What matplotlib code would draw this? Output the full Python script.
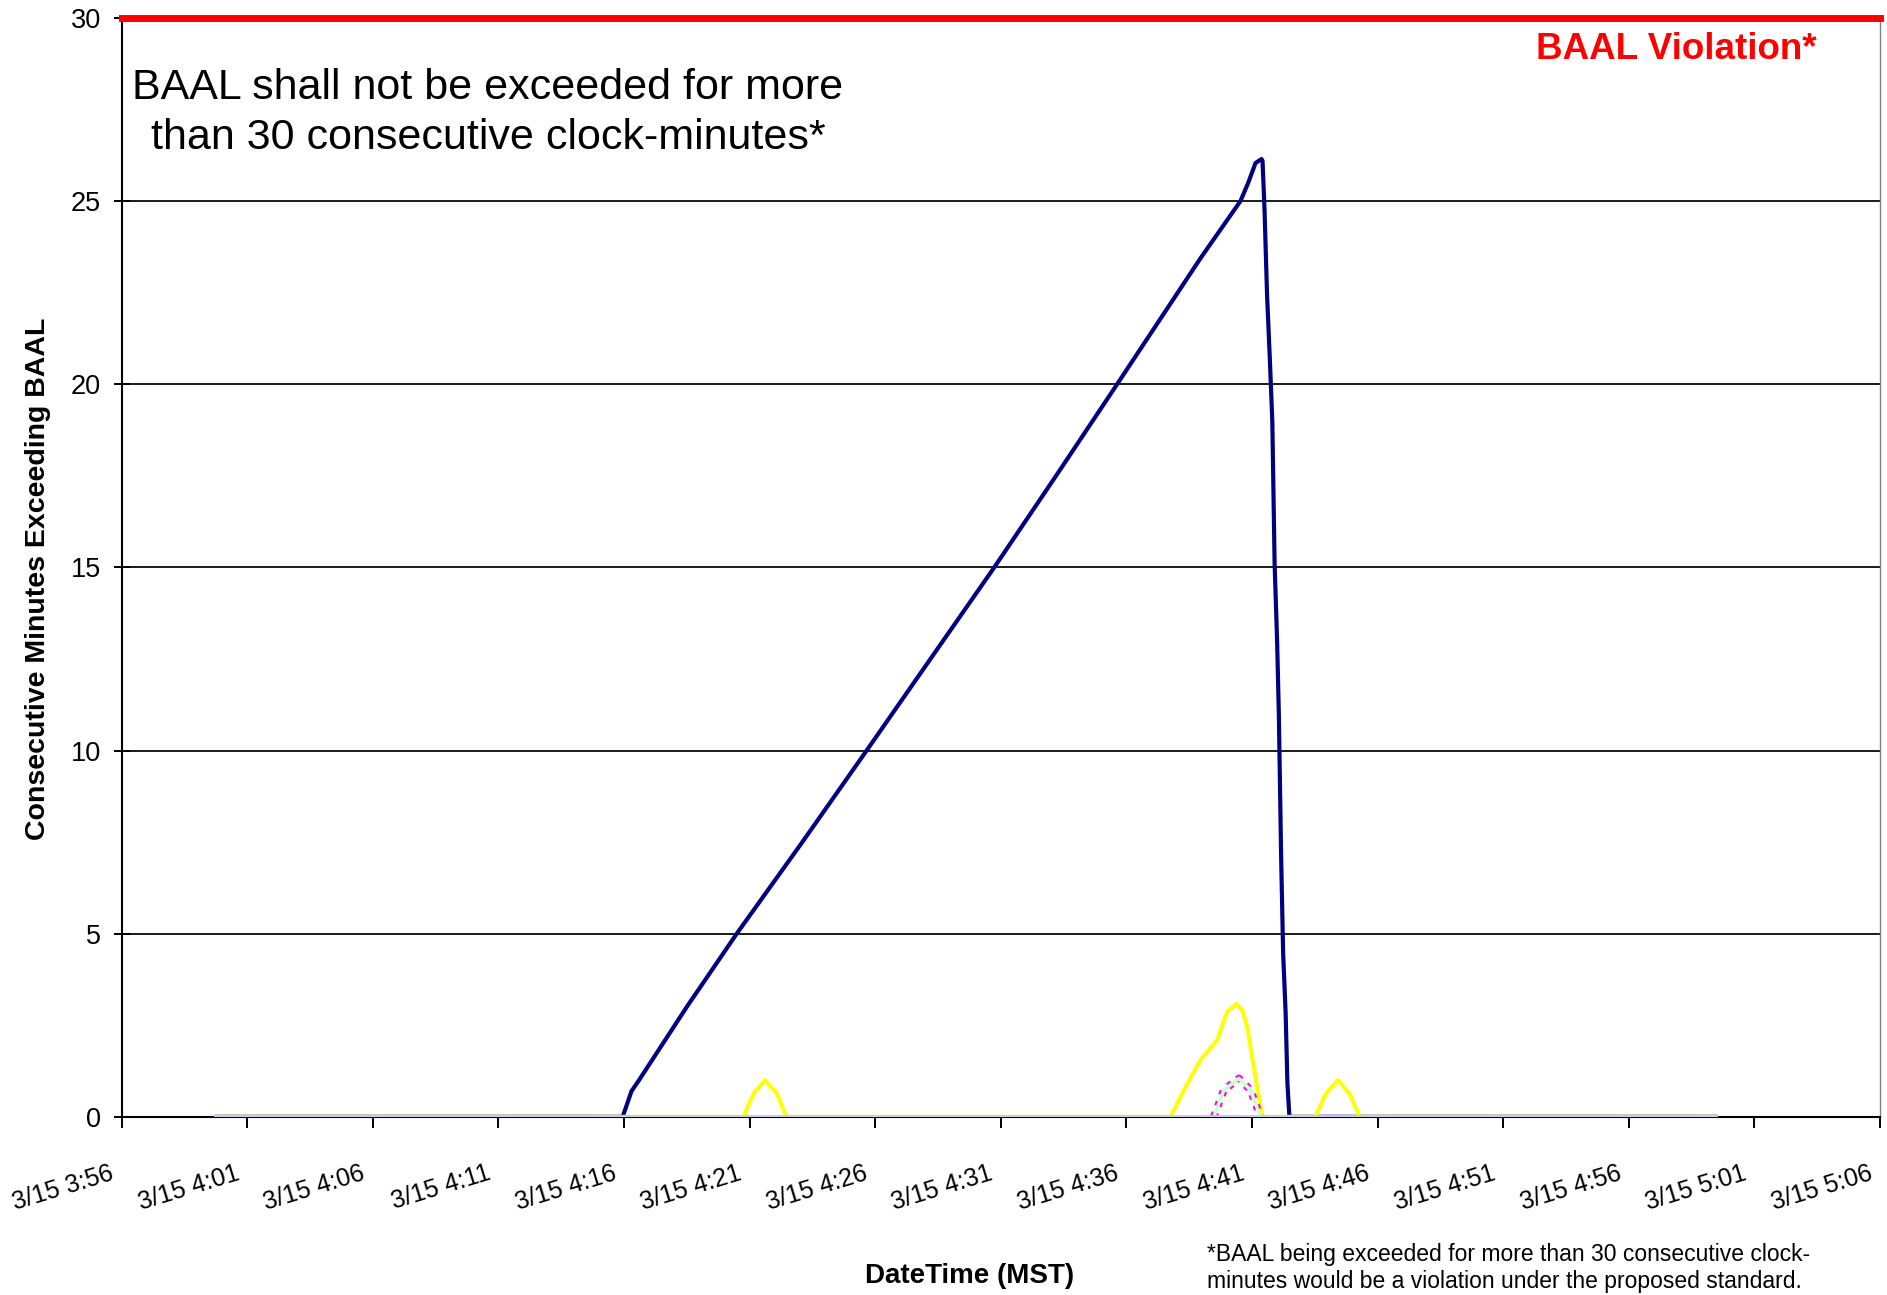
import matplotlib
matplotlib.use('Agg')
import matplotlib.pyplot as plt
from matplotlib.transforms import ScaledTranslation

plt.rcParams['font.family'] = ['Liberation Sans', 'DejaVu Sans']

# x axis: minutes after 3/15 3:56 (MST)
tick_pos = [0, 5, 10, 15, 20, 25, 30, 35, 40, 45, 50, 55, 60, 65, 70]
tick_labels = ['3/15 3:56', '3/15 4:01', '3/15 4:06', '3/15 4:11', '3/15 4:16',
               '3/15 4:21', '3/15 4:26', '3/15 4:31', '3/15 4:36', '3/15 4:41',
               '3/15 4:46', '3/15 4:51', '3/15 4:56', '3/15 5:01', '3/15 5:06']

# main event (navy)
blue_t = [3.78, 19.95, 20.3, 20.6, 22.5, 24.49, 27.1, 29.66, 32.2, 34.74, 37.2,
          39.63, 42.95, 44.54, 44.85, 45.14, 45.38, 45.42, 45.5, 45.6, 45.71,
          45.81, 45.9, 46.0, 46.07, 46.16, 46.24, 46.34, 46.41, 46.49, 63.46]
blue_v = [0, 0, 0.7, 1.0, 3.0, 5.0, 7.5, 10.0, 12.5, 15.0, 17.5,
          20.0, 23.44, 25.0, 25.5, 26.04, 26.15, 26.1, 24.76, 22.44, 20.7,
          18.98, 15.12, 13.0, 10.97, 7.1, 4.47, 2.83, 0.92, 0, 0]

# yellow series
yellow_t = [3.78, 24.76, 25.16, 25.62, 26.09, 26.46, 41.76, 42.29, 42.95, 43.62,
            44.01, 44.38, 44.61, 44.81, 45.07, 45.41, 47.52, 47.95, 48.42, 48.88,
            49.28, 63.46]
yellow_v = [0, 0, 0.64, 1.0, 0.64, 0, 0, 0.73, 1.55, 2.1,
            2.87, 3.08, 2.92, 2.46, 1.37, 0, 0, 0.64, 1.0, 0.64,
            0, 0]

# magenta / light green series (visible bump only)
pink_t = [43.48, 43.88, 44.48, 44.94, 45.34]
pink_v = [0, 0.73, 1.05, 0.73, 0]

# lavender series sitting on zero
zero_t = [3.78, 63.46]
zero_v = [0, 0]

baal_limit = 30

fig = plt.figure(figsize=(18.87, 12.95), dpi=100)
ax = fig.add_axes([0.0644, 0.1376, 0.9319, 0.8485])

ax.plot(blue_t, blue_v, color='#000080', lw=3.0, zorder=3)
ax.plot(yellow_t, yellow_v, color='#ffff00', lw=2.9, zorder=3)
ax.plot(pink_t, pink_v, color='#ff00ff', lw=5.5, ls=(0, (0.6, 0.9)), zorder=3)
ax.plot(pink_t, pink_v, color='#ccffcc', lw=2.6, zorder=3)
ax.plot(zero_t, zero_v, color='#c8c8f0', lw=2.8, zorder=4)
ax.axhline(baal_limit, color='#ff0000', lw=5, clip_on=False, zorder=6)

ax.set_xlim(0, 70)
ax.set_ylim(0, 30)
ax.set_yticks(range(0, 31, 5))
ax.set_xticks(tick_pos)
ax.set_xticklabels(tick_labels, rotation=17, ha='right', va='top',
                   rotation_mode='anchor')

ax.yaxis.grid(True, color='#1a1a1a', lw=1.4)
ax.set_axisbelow(True)
ax.tick_params(axis='y', direction='inout', length=12, width=1.4, labelsize=19.5, pad=9)
ax.tick_params(axis='x', direction='out', length=8, width=1.4, labelsize=18, pad=24)

# nudge the slanted date labels left of their ticks (after tick_params)
for lbl in ax.get_xticklabels():
    lbl.set_transform(lbl.get_transform() + ScaledTranslation(-0.12, 0, fig.dpi_scale_trans))

for s in ['left', 'bottom']:
    ax.spines[s].set_linewidth(1.5)
    ax.spines[s].set_color('black')
ax.spines['right'].set_color('#808080')
ax.spines['right'].set_linewidth(1.0)
ax.spines['top'].set_visible(False)

fig.text(0.020, 0.553, 'Consecutive Minutes Exceeding BAAL', rotation=90,
         ha='center', va='center', fontsize=20.5, fontweight='bold')
fig.text(0.514, 0.0147, 'DateTime (MST)', ha='center', va='center',
         fontsize=20, fontweight='bold')
fig.text(0.2586, 0.9125, 'BAAL shall not be exceeded for more\nthan 30 consecutive clock-minutes*',
         ha='center', va='center', multialignment='center', fontsize=31, linespacing=1.32)
fig.text(0.9629, 0.962, 'BAAL Violation*', ha='right', va='center', color='#ff0000',
         fontsize=26.5, fontweight='bold')
fig.text(0.6396, 0.0208, '*BAAL being exceeded for more than 30 consecutive clock-\n'
         'minutes would be a violation under the proposed standard.',
         ha='left', va='center', fontsize=16.5, linespacing=1.2)

fig.savefig('out.png', dpi=100)
